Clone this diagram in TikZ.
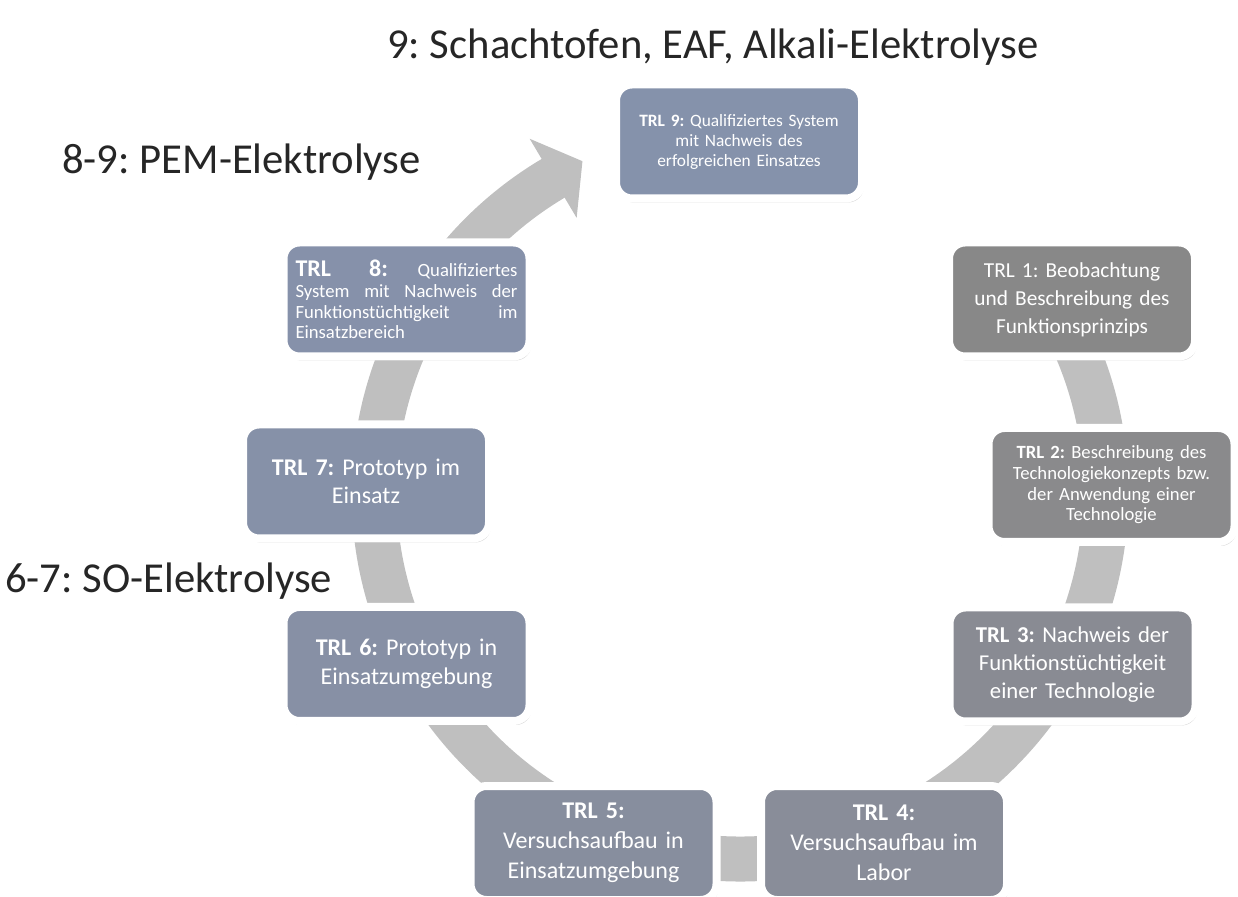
\documentclass[tikz,border=0pt]{standalone}
\usepackage{fontspec}
\setmainfont{Carlito}
\frenchspacing
\usetikzlibrary{calc,shadows}
\definecolor{ringgray}{HTML}{BFBFBF}
\definecolor{titlegray}{HTML}{262626}
\definecolor{cA}{HTML}{888888}
\definecolor{cB}{HTML}{8A8A8C}
\definecolor{cC}{HTML}{898B93}
\definecolor{cD}{HTML}{898D99}
\definecolor{cE}{HTML}{878E9E}
\definecolor{cF}{HTML}{8790A5}
\definecolor{cG}{HTML}{8691A8}
\definecolor{cH}{HTML}{8691AA}
\definecolor{cI}{HTML}{8592AB}
\begin{document}
\begin{tikzpicture}[x=0.75pt,y=0.75pt,
  trlbox/.style={draw=white, line width=6pt, rounded corners=12pt, text=white,
    align=center, minimum width=184.5pt, minimum height=85.5pt, inner sep=0pt,
    text width=174pt,
    drop shadow={opacity=0.35, shadow xshift=1.5pt, shadow yshift=-3pt}},
  bigtxt/.style={font=\fontsize{18pt}{21.5pt}\selectfont},
  midtxt/.style={font=\fontsize{16.5pt}{21pt}\selectfont},
  smalltxt/.style={font=\fontsize{14pt}{15.5pt}\selectfont},
  lbl/.style={font=\fontsize{32pt}{36pt}\selectfont, text=titlegray, inner sep=0pt, anchor=west}
]
\useasboundingbox (0,0) rectangle (1238,896);

% circular arrow
\coordinate (c) at (740,403);
\draw[ringgray, line width=33.75pt] ($(c)+(35:274.5pt)$) arc[start angle=35, end angle=-239.6, radius=274.5pt];
\fill[ringgray] ($(c)+(120.7:240pt)$) -- ($(c)+(120.7:309pt)$) -- ($(c)+(115.4:275.5pt)$) -- cycle;

% boxes
\node[trlbox, fill=cI, font=\fontsize{13pt}{15pt}\selectfont] (t9) at (739,754.5)
  {\textbf{TRL 9:} Qualifiziertes System\\ mit Nachweis des\\ erfolgreichen Einsatzes};
\node[trlbox, fill=cA, font=\fontsize{16pt}{21pt}\selectfont] (t1) at (1072,596.5)
  {TRL 1: Beobachtung\\ und Beschreibung des\\ Funktionsprinzips};
\node[trlbox, fill=cB, smalltxt] (t2) at (1111.5,411)
  {\textbf{TRL 2:} Beschreibung des\\ Technologiekonzepts bzw.\\ der Anwendung einer\\ Technologie};
\node[trlbox, fill=cC, font=\fontsize{17pt}{21pt}\selectfont] (t3) at (1072.5,231.5)
  {\textbf{TRL 3:} Nachweis der\\ Funktionstüchtigkeit\\ einer Technologie};
\node[trlbox, fill=cD, font=\fontsize{18pt}{22.5pt}\selectfont] (t4) at (884,53)
  {\textbf{TRL 4:}\\ Versuchsaufbau im\\ Labor};
\node[trlbox, fill=cE, font=\fontsize{18pt}{22.5pt}\selectfont] (t5) at (593.5,53)
  {\textbf{TRL 5:}\\ Versuchsaufbau in\\ Einsatzumgebung};
\node[trlbox, fill=cF, bigtxt] (t6) at (406.5,232)
  {\textbf{TRL 6:} Prototyp in\\ Einsatzumgebung};
\node[trlbox, fill=cG, bigtxt] (t7) at (366,414.5)
  {\textbf{TRL 7:} Prototyp im\\ Einsatz};
\node[trlbox, fill=cH, smalltxt, align=justify, text width=166.5pt] (t8) at (406.5,596.5)
  {{\fontsize{18pt}{18pt}\selectfont\bfseries TRL 8:} Qualifiziertes\linebreak System mit Nachweis der\linebreak Funktionstüchtigkeit im\linebreak Einsatzbereich};

% labels
\node[lbl] (l9) at (387,849) {9: Schachtofen, EAF, Alkali-Elektrolyse};
\node[lbl] (l89) at (62,734) {8-9: PEM-Elektrolyse};
\node[lbl] (l67) at (5,315) {6-7: SO-Elektrolyse};
\end{tikzpicture}
\end{document}
